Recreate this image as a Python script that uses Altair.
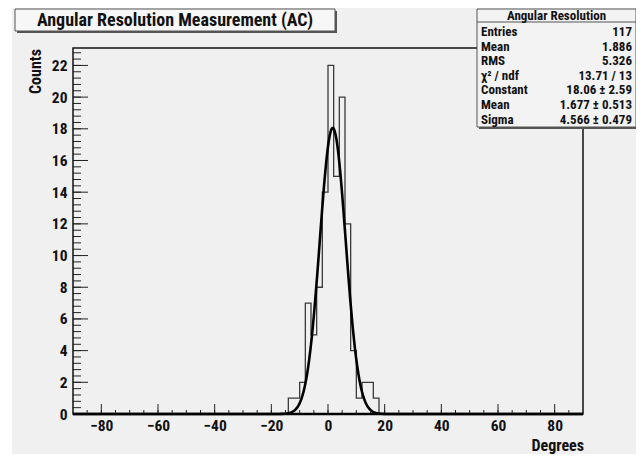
import altair as alt
import numpy as np
import pandas as pd

# ---------------- data ----------------
bin_left_edges = [-14, -12, -10, -8, -6, -4, -2, 0, 2, 4, 6, 8, 10, 12, 14, 16]
bin_counts = [1, 1, 2, 7, 5, 8, 14, 22, 15, 20, 12, 4, 1, 2, 2, 1]
bin_width = 2
x_limits = [-90, 90]
y_limits = [0, 23.1]

fit_constant = 18.06
fit_mean = 1.677
fit_sigma = 4.566

x_tick_labels = [-80, -60, -40, -20, 0, 20, 40, 60, 80]
y_tick_labels = [0, 2, 4, 6, 8, 10, 12, 14, 16, 18, 20, 22]

chart_title = "Angular Resolution Measurement (AC)"
stats_title = "Angular Resolution"
stat_names = ["Entries", "Mean", "RMS", "χ² / ndf", "Constant", "Mean", "Sigma"]
stat_values = ["117", "1.886", "5.326", "13.71 / 13", "18.06 ± 2.59",
               "1.677 ± 0.513", "4.566 ± 0.479"]

# ---------------- layout ----------------
W, H = 510, 366
FONT = "Liberation Sans Narrow, Roboto Condensed, Liberation Sans, Arial, sans-serif"
BG = "#f0f0f0"

# histogram outline (step)
hx = [x_limits[0]] + bin_left_edges + [bin_left_edges[-1] + bin_width, x_limits[1]]
hy = [0] + bin_counts + [0, 0]
hist_df = pd.DataFrame({"x": hx, "y": hy})

# gaussian fit curve from the fit parameters shown in the stats box
gx = np.arange(x_limits[0], x_limits[1] + 0.001, 0.25)
gy = fit_constant * np.exp(-0.5 * ((gx - fit_mean) / fit_sigma) ** 2)
fit_df = pd.DataFrame({"x": gx, "y": gy})

xs = alt.Scale(domain=x_limits, nice=False, zero=False)
ys = alt.Scale(domain=y_limits, nice=False, zero=False)

axis_common = dict(ticks=False, domain=False, grid=False, labelFont=FONT,
                   labelFontSize=15.5, labelFontWeight="bold", labelColor="#111",
                   title=None, labelOverlap=False)
x_axis = alt.Axis(values=x_tick_labels, labelPadding=4, labelAngle=0, **axis_common)
y_axis = alt.Axis(values=y_tick_labels, labelPadding=6, **axis_common)

hist = alt.Chart(hist_df).mark_line(interpolate="step-after", color="#3a3a3a",
                                    strokeWidth=1.3).encode(
    x=alt.X("x:Q", scale=xs, axis=x_axis),
    y=alt.Y("y:Q", scale=ys, axis=y_axis),
)

fit = alt.Chart(fit_df).mark_line(color="#000000", strokeWidth=2.6).encode(
    x=alt.X("x:Q", scale=xs, axis=x_axis),
    y=alt.Y("y:Q", scale=ys, axis=y_axis),
)

one = pd.DataFrame({"a": [0]})

frame = alt.Chart(one).mark_rect(fill=None, stroke="#111", strokeWidth=1.5).encode(
    x=alt.value(0), x2=alt.value(W), y=alt.value(0), y2=alt.value(H))
bottom_axis = alt.Chart(one).mark_rule(color="#000", strokeWidth=2.5).encode(
    x=alt.value(0), x2=alt.value(W), y=alt.value(H))

# inward ticks
y_major_df = pd.DataFrame({"y": y_tick_labels})
y_minor_df = pd.DataFrame({"y": [round(v, 2) for v in np.arange(0, 23.0, 0.4)]})
x_major_df = pd.DataFrame({"x": x_tick_labels})
x_minor_df = pd.DataFrame({"x": list(range(-85, 90, 5))})

y_major_ticks = alt.Chart(y_major_df).mark_rule(color="#222", strokeWidth=1).encode(
    y=alt.Y("y:Q", scale=ys, axis=y_axis), x=alt.value(0), x2=alt.value(15))
y_minor_ticks = alt.Chart(y_minor_df).mark_rule(color="#222", strokeWidth=1).encode(
    y=alt.Y("y:Q", scale=ys, axis=y_axis), x=alt.value(0), x2=alt.value(8))
x_major_ticks = alt.Chart(x_major_df).mark_rule(color="#222", strokeWidth=1).encode(
    x=alt.X("x:Q", scale=xs, axis=x_axis), y=alt.value(H), y2=alt.value(H - 10))
x_minor_ticks = alt.Chart(x_minor_df).mark_rule(color="#222", strokeWidth=1).encode(
    x=alt.X("x:Q", scale=xs, axis=x_axis), y=alt.value(H), y2=alt.value(H - 4))

# axis titles
y_title = alt.Chart(one).mark_text(text="Counts", font=FONT, fontSize=16,
                                   fontWeight="bold", angle=270, align="right",
                                   baseline="middle", color="#111").encode(
    x=alt.value(-37), y=alt.value(1))
x_title = alt.Chart(one).mark_text(text="Degrees", font=FONT, fontSize=16,
                                   fontWeight="bold", align="right",
                                   baseline="middle", color="#111").encode(
    x=alt.value(W + 1), y=alt.value(H + 32))

# title box
tb_x0, tb_x1, tb_y0, tb_y1 = -58, 262, -39, -17
title_shadow = alt.Chart(one).mark_rect(fill="#555").encode(
    x=alt.value(tb_x0 + 2), x2=alt.value(tb_x1 + 2),
    y=alt.value(tb_y0 + 2), y2=alt.value(tb_y1 + 2))
title_box = alt.Chart(one).mark_rect(fill="#f7f7f7", stroke="#555",
                                     strokeWidth=1).encode(
    x=alt.value(tb_x0), x2=alt.value(tb_x1), y=alt.value(tb_y0), y2=alt.value(tb_y1))
title_text = alt.Chart(one).mark_text(text=chart_title, font=FONT, fontSize=18,
                                      fontWeight="bold", color="#111",
                                      align="center", baseline="middle").encode(
    x=alt.value((tb_x0 + tb_x1) / 2), y=alt.value((tb_y0 + tb_y1) / 2 + 1))

# stats box
sb_x0, sb_x1, sb_y0, sb_y1 = 404, 563, -39, 79
stats_shadow = alt.Chart(one).mark_rect(fill="#555").encode(
    x=alt.value(sb_x0 + 2), x2=alt.value(sb_x1 + 2),
    y=alt.value(sb_y0 + 2), y2=alt.value(sb_y1 + 2))
stats_box = alt.Chart(one).mark_rect(fill="#f3f3f3", stroke="#555",
                                     strokeWidth=1).encode(
    x=alt.value(sb_x0), x2=alt.value(sb_x1), y=alt.value(sb_y0), y2=alt.value(sb_y1))
stats_sep = alt.Chart(one).mark_rule(color="#555", strokeWidth=1).encode(
    x=alt.value(sb_x0), x2=alt.value(sb_x1), y=alt.value(-26))
stats_head = alt.Chart(one).mark_text(text=stats_title, font=FONT, fontSize=13,
                                      fontWeight="bold", color="#111",
                                      align="center", baseline="middle").encode(
    x=alt.value((sb_x0 + sb_x1) / 2), y=alt.value(-32))

row_y0, row_dy = -16, 14.6
stats_df = pd.DataFrame({
    "name": stat_names,
    "value": stat_values,
    "row": list(range(len(stat_names))),
})
row_scale = alt.Scale(domain=[0, len(stat_names) - 1],
                      range=[row_y0, row_y0 + row_dy * (len(stat_names) - 1)])
stats_names_txt = alt.Chart(stats_df).mark_text(font=FONT, fontSize=13,
                                                fontWeight="bold", color="#111",
                                                align="left", baseline="middle").encode(
    text="name:N", x=alt.value(sb_x0 + 4),
    y=alt.Y("row:Q", scale=row_scale, axis=None))
stats_vals_txt = alt.Chart(stats_df).mark_text(font=FONT, fontSize=13,
                                               fontWeight="bold", color="#111",
                                               align="right", baseline="middle").encode(
    text="value:N", x=alt.value(sb_x1 - 4),
    y=alt.Y("row:Q", scale=row_scale, axis=None))

stats_layer = alt.layer(stats_names_txt, stats_vals_txt)

left_strip = alt.Chart(one).mark_rect(fill="#ffffff").encode(
    x=alt.value(-65), x2=alt.value(-61), y=alt.value(-40), y2=alt.value(H + 40))

chart = alt.layer(
    hist, fit,
    y_minor_ticks, y_major_ticks, x_minor_ticks, x_major_ticks,
    frame, bottom_axis,
    y_title, x_title,
    left_strip,
    title_shadow, title_box, title_text,
    stats_shadow, stats_box, stats_sep, stats_head,
).properties(width=W, height=H)

chart = alt.layer(chart, stats_layer).resolve_scale(y="independent").properties(
    width=W, height=H,
    autosize=alt.AutoSizeParams(type="none"),
    padding={"left": 65, "top": 40, "right": 53, "bottom": 40},
).configure(background=BG).configure_view(stroke=None)

chart.save("out.html", embed_options={"renderer": "svg", "actions": False})
